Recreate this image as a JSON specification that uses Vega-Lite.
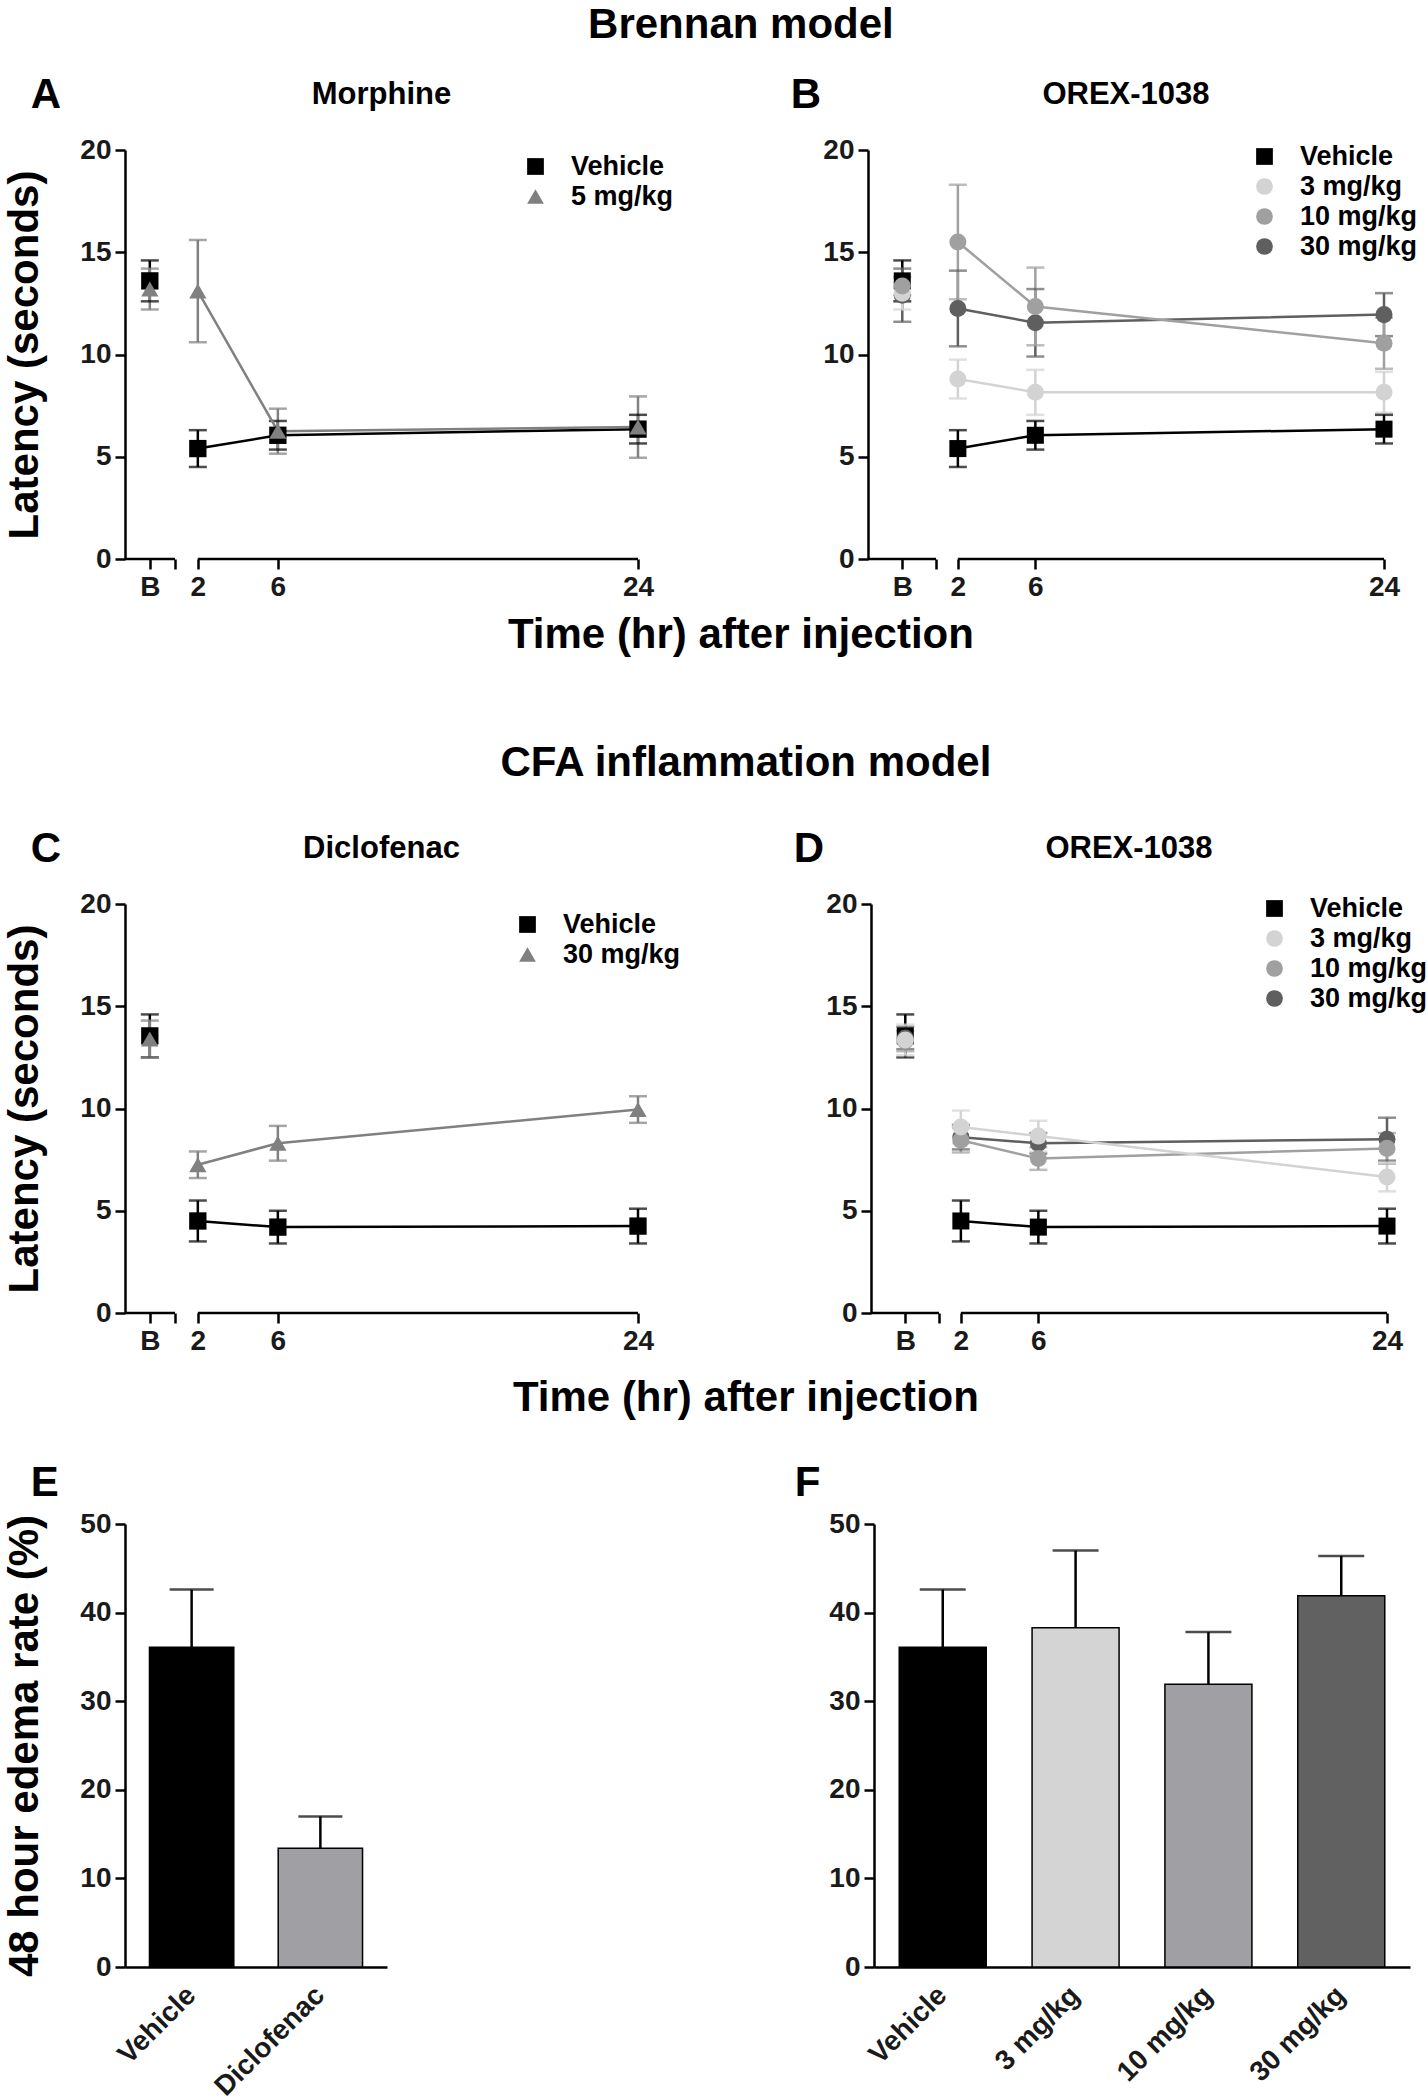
{
"$schema": "https://vega.github.io/schema/vega-lite/v6.json",
"background": "white",
"padding": {"left": 3, "top": 4, "right": 2, "bottom": 5},
"config": {
 "font": "Liberation Sans",
 "view": {"stroke": null},
 "axis": {"grid": false, "domainColor": "black", "domainWidth": 2.5, "tickColor": "black", "tickWidth": 2.5, "tickSize": 10, "labelFont": "Liberation Sans", "labelFontSize": 28, "labelFontWeight": "bold", "labelColor": "#1a1a1a", "labelPadding": 4, "titleFont": "Liberation Sans", "titleFontSize": 42, "titleFontWeight": "bold", "titleColor": "black"},
 "axisY": {"titlePadding": 33},
 "legend": {"labelFont": "Liberation Sans", "labelFontSize": 27, "labelFontWeight": "bold", "labelColor": "black", "symbolSize": 280, "symbolStrokeWidth": 0, "labelOffset": 22, "rowPadding": 2},
 "title": {"font": "Liberation Sans", "fontWeight": "bold", "color": "black", "anchor": "middle"}
},
"datasets": {
 "lat": [
  {"panel": "A", "group": "Vehicle", "time": "B", "mean": 13.6, "lo": 12.6, "hi": 14.6},
  {"panel": "A", "group": "Vehicle", "time": "2", "mean": 5.4, "lo": 4.5, "hi": 6.3},
  {"panel": "A", "group": "Vehicle", "time": "6", "mean": 6.05, "lo": 5.35, "hi": 6.75},
  {"panel": "A", "group": "Vehicle", "time": "24", "mean": 6.35, "lo": 5.65, "hi": 7.05},
  {"panel": "A", "group": "5 mg/kg", "time": "B", "mean": 13.2, "lo": 12.2, "hi": 14.2},
  {"panel": "A", "group": "5 mg/kg", "time": "2", "mean": 13.1, "lo": 10.6, "hi": 15.6},
  {"panel": "A", "group": "5 mg/kg", "time": "6", "mean": 6.25, "lo": 5.15, "hi": 7.35},
  {"panel": "A", "group": "5 mg/kg", "time": "24", "mean": 6.45, "lo": 4.95, "hi": 7.95},
  {"panel": "B", "group": "Vehicle", "time": "B", "mean": 13.6, "lo": 12.6, "hi": 14.6},
  {"panel": "B", "group": "Vehicle", "time": "2", "mean": 5.4, "lo": 4.5, "hi": 6.3},
  {"panel": "B", "group": "Vehicle", "time": "6", "mean": 6.05, "lo": 5.35, "hi": 6.75},
  {"panel": "B", "group": "Vehicle", "time": "24", "mean": 6.35, "lo": 5.65, "hi": 7.05},
  {"panel": "B", "group": "30 mg/kg", "time": "B", "mean": 12.9, "lo": 11.6, "hi": 14.2},
  {"panel": "B", "group": "30 mg/kg", "time": "2", "mean": 12.25, "lo": 10.4, "hi": 14.1},
  {"panel": "B", "group": "30 mg/kg", "time": "6", "mean": 11.55, "lo": 9.9, "hi": 13.2},
  {"panel": "B", "group": "30 mg/kg", "time": "24", "mean": 11.95, "lo": 10.9, "hi": 13.0},
  {"panel": "B", "group": "3 mg/kg", "time": "B", "mean": 13.0, "lo": 12.2, "hi": 13.8},
  {"panel": "B", "group": "3 mg/kg", "time": "2", "mean": 8.8, "lo": 7.85, "hi": 9.75},
  {"panel": "B", "group": "3 mg/kg", "time": "6", "mean": 8.15, "lo": 7.05, "hi": 9.25},
  {"panel": "B", "group": "3 mg/kg", "time": "24", "mean": 8.15, "lo": 7.15, "hi": 9.15},
  {"panel": "B", "group": "10 mg/kg", "time": "B", "mean": 13.35, "lo": 12.9, "hi": 13.8},
  {"panel": "B", "group": "10 mg/kg", "time": "2", "mean": 15.5, "lo": 12.7, "hi": 18.3},
  {"panel": "B", "group": "10 mg/kg", "time": "6", "mean": 12.35, "lo": 10.45, "hi": 14.25},
  {"panel": "B", "group": "10 mg/kg", "time": "24", "mean": 10.55, "lo": 9.3, "hi": 11.8},
  {"panel": "C", "group": "Vehicle", "time": "B", "mean": 13.55, "lo": 12.5, "hi": 14.6},
  {"panel": "C", "group": "Vehicle", "time": "2", "mean": 4.5, "lo": 3.5, "hi": 5.5},
  {"panel": "C", "group": "Vehicle", "time": "6", "mean": 4.2, "lo": 3.4, "hi": 5.0},
  {"panel": "C", "group": "Vehicle", "time": "24", "mean": 4.25, "lo": 3.4, "hi": 5.1},
  {"panel": "C", "group": "30 mg/kg", "time": "B", "mean": 13.4, "lo": 12.5, "hi": 14.3},
  {"panel": "C", "group": "30 mg/kg", "time": "2", "mean": 7.25, "lo": 6.6, "hi": 7.9},
  {"panel": "C", "group": "30 mg/kg", "time": "6", "mean": 8.3, "lo": 7.45, "hi": 9.15},
  {"panel": "C", "group": "30 mg/kg", "time": "24", "mean": 9.95, "lo": 9.3, "hi": 10.6},
  {"panel": "D", "group": "Vehicle", "time": "B", "mean": 13.55, "lo": 12.5, "hi": 14.6},
  {"panel": "D", "group": "Vehicle", "time": "2", "mean": 4.5, "lo": 3.5, "hi": 5.5},
  {"panel": "D", "group": "Vehicle", "time": "6", "mean": 4.2, "lo": 3.4, "hi": 5.0},
  {"panel": "D", "group": "Vehicle", "time": "24", "mean": 4.25, "lo": 3.4, "hi": 5.1},
  {"panel": "D", "group": "30 mg/kg", "time": "B", "mean": 13.45, "lo": 12.9, "hi": 14.0},
  {"panel": "D", "group": "30 mg/kg", "time": "2", "mean": 8.6, "lo": 8.0, "hi": 9.2},
  {"panel": "D", "group": "30 mg/kg", "time": "6", "mean": 8.3, "lo": 7.8, "hi": 8.8},
  {"panel": "D", "group": "30 mg/kg", "time": "24", "mean": 8.5, "lo": 7.45, "hi": 9.55},
  {"panel": "D", "group": "10 mg/kg", "time": "B", "mean": 13.3, "lo": 12.8, "hi": 13.8},
  {"panel": "D", "group": "10 mg/kg", "time": "2", "mean": 8.45, "lo": 7.85, "hi": 9.05},
  {"panel": "D", "group": "10 mg/kg", "time": "6", "mean": 7.55, "lo": 7.0, "hi": 8.1},
  {"panel": "D", "group": "10 mg/kg", "time": "24", "mean": 8.05, "lo": 7.3, "hi": 8.8},
  {"panel": "D", "group": "3 mg/kg", "time": "B", "mean": 13.35, "lo": 12.6, "hi": 14.1},
  {"panel": "D", "group": "3 mg/kg", "time": "2", "mean": 9.1, "lo": 8.3, "hi": 9.9},
  {"panel": "D", "group": "3 mg/kg", "time": "6", "mean": 8.65, "lo": 7.9, "hi": 9.4},
  {"panel": "D", "group": "3 mg/kg", "time": "24", "mean": 6.65, "lo": 5.95, "hi": 7.35}
 ],
 "edema": [
  {"panel": "E", "group": "Vehicle", "mean": 36.1, "hi": 42.6},
  {"panel": "E", "group": "Diclofenac", "mean": 13.4, "hi": 17.0},
  {"panel": "F", "group": "Vehicle", "mean": 36.1, "hi": 42.6},
  {"panel": "F", "group": "3 mg/kg", "mean": 38.3, "hi": 47.0},
  {"panel": "F", "group": "10 mg/kg", "mean": 31.9, "hi": 37.8},
  {"panel": "F", "group": "30 mg/kg", "mean": 41.9, "hi": 46.4}
 ]
},
"spacing": 86,
"resolve": {"scale": {"color": "independent", "shape": "independent", "stroke": "independent", "fill": "independent"}, "legend": {"color": "independent", "shape": "independent"}},
"vconcat": [
 {
  "title": {"text": "Brennan model", "fontSize": 42, "offset": 27, "dx": 30},
  "resolve": {"scale": {"color": "independent", "shape": "independent", "stroke": "independent", "fill": "independent"}, "legend": {"color": "independent", "shape": "independent"}},
  "vconcat": [{
   "title": {"text": "Time (hr) after injection", "orient": "bottom", "fontSize": 42, "offset": 14, "dx": 30},
   "spacing": 116,
   "resolve": {"scale": {"color": "independent", "shape": "independent", "stroke": "independent", "fill": "independent"}, "legend": {"color": "independent", "shape": "independent"}},
   "hconcat": [
    {
     "title": {"text": "A", "anchor": "start", "frame": "bounds", "fontSize": 42, "dx": 27, "dy": 38, "offset": 0},
     "vconcat": [{
      "width": 513, "height": 409,
      "title": {"text": "Morphine", "fontSize": 31, "frame": "group", "offset": 25},
      "data": {"name": "lat"},
      "transform": [{"filter": "datum.panel == 'A'"}, {"calculate": "datum.time == 'B' ? -0.4 : toNumber(datum.time)", "as": "hr"}],
      "encoding": {
       "x": {"field": "hr", "type": "quantitative", "scale": {"domain": [-1.64, 24], "nice": false, "zero": false}, "axis": {"values": [-0.4, 0.86, 2, 6, 24], "labelExpr": "datum.value < 0 ? 'B' : (datum.value < 1 ? '' : datum.label)", "domain": false, "title": null, "labelFlush": false, "labelOverlap": false}},
       "y": {"field": "mean", "type": "quantitative", "scale": {"domain": [0, 20], "nice": false}, "axis": {"values": [0, 5, 10, 15, 20], "title": "Latency (seconds)"}}
      },
      "layer": [
       {"transform": [{"filter": "datum.group == 'Vehicle' && datum.time == 'B'"}], "mark": {"type": "rule", "color": "black", "strokeWidth": 2.5}, "encoding": {"x": {"datum": -1.64}, "x2": {"datum": 0.86}, "y": {"datum": 0}}},
       {"transform": [{"filter": "datum.group == 'Vehicle' && datum.time == 'B'"}], "mark": {"type": "rule", "color": "black", "strokeWidth": 2.5}, "encoding": {"x": {"datum": 2}, "x2": {"datum": 24}, "y": {"datum": 0}}},
       {"mark": {"type": "rule", "strokeWidth": 2.5}, "encoding": {"y": {"field": "lo", "type": "quantitative"}, "y2": {"field": "hi"}, "stroke": {"field": "group", "type": "nominal", "scale": {"domain": ["5 mg/kg", "Vehicle"], "range": ["#808080", "#000000"]}, "legend": null}}},
       {"mark": {"type": "tick", "orient": "horizontal", "size": 18, "thickness": 2.5}, "encoding": {"y": {"field": "lo", "type": "quantitative"}, "fill": {"field": "group", "type": "nominal", "scale": {"domain": ["5 mg/kg", "Vehicle"], "range": ["#808080", "#000000"]}, "legend": null}}},
       {"mark": {"type": "tick", "orient": "horizontal", "size": 18, "thickness": 2.5}, "encoding": {"y": {"field": "hi", "type": "quantitative"}, "fill": {"field": "group", "type": "nominal", "scale": {"domain": ["5 mg/kg", "Vehicle"], "range": ["#808080", "#000000"]}, "legend": null}}},
       {"transform": [{"filter": "datum.time != 'B'"}], "mark": {"type": "line", "strokeWidth": 2.5}, "encoding": {"stroke": {"field": "group", "type": "nominal", "scale": {"domain": ["5 mg/kg", "Vehicle"], "range": ["#808080", "#000000"]}, "legend": null}}},
       {"mark": {"type": "point", "filled": true, "size": 300, "opacity": 1}, "encoding": {
         "color": {"field": "group", "type": "nominal", "scale": {"domain": ["Vehicle", "5 mg/kg"], "range": ["#000000", "#808080"]}, "legend": {"title": null, "orient": "none", "legendX": 397, "legendY": 3}},
         "shape": {"field": "group", "type": "nominal", "scale": {"domain": ["Vehicle", "5 mg/kg"], "range": ["square", "triangle-up"]}, "legend": {"title": null, "orient": "none", "legendX": 397, "legendY": 3}}}}
      ]
     }]
    },
    {
     "title": {"text": "B", "anchor": "start", "frame": "bounds", "fontSize": 42, "dx": -32, "dy": 38, "offset": 0},
     "vconcat": [{
      "width": 516, "height": 409,
      "title": {"text": "OREX-1038", "fontSize": 31, "frame": "group", "offset": 25},
      "data": {"name": "lat"},
      "transform": [{"filter": "datum.panel == 'B'"}, {"calculate": "datum.time == 'B' ? -0.87 : toNumber(datum.time)", "as": "hr"}],
      "encoding": {
       "x": {"field": "hr", "type": "quantitative", "scale": {"domain": [-2.64, 24], "nice": false, "zero": false}, "axis": {"values": [-0.87, 0.87, 2, 6, 24], "labelExpr": "datum.value < 0 ? 'B' : (datum.value < 1 ? '' : datum.label)", "domain": false, "title": null, "labelFlush": false, "labelOverlap": false}},
       "y": {"field": "mean", "type": "quantitative", "scale": {"domain": [0, 20], "nice": false}, "axis": {"values": [0, 5, 10, 15, 20], "title": null}}
      },
      "layer": [
       {"transform": [{"filter": "datum.group == 'Vehicle' && datum.time == 'B'"}], "mark": {"type": "rule", "color": "black", "strokeWidth": 2.5}, "encoding": {"x": {"datum": -2.64}, "x2": {"datum": 0.87}, "y": {"datum": 0}}},
       {"transform": [{"filter": "datum.group == 'Vehicle' && datum.time == 'B'"}], "mark": {"type": "rule", "color": "black", "strokeWidth": 2.5}, "encoding": {"x": {"datum": 2}, "x2": {"datum": 24}, "y": {"datum": 0}}},
       {"mark": {"type": "rule", "strokeWidth": 2.5}, "encoding": {"y": {"field": "lo", "type": "quantitative"}, "y2": {"field": "hi"}, "stroke": {"field": "group", "type": "nominal", "scale": {"domain": ["30 mg/kg", "10 mg/kg", "3 mg/kg", "Vehicle"], "range": ["#5f5f5f", "#a0a0a0", "#d3d3d3", "#000000"]}, "legend": null}}},
       {"mark": {"type": "tick", "orient": "horizontal", "size": 18, "thickness": 2.5}, "encoding": {"y": {"field": "lo", "type": "quantitative"}, "fill": {"field": "group", "type": "nominal", "scale": {"domain": ["30 mg/kg", "10 mg/kg", "3 mg/kg", "Vehicle"], "range": ["#5f5f5f", "#a0a0a0", "#d3d3d3", "#000000"]}, "legend": null}}},
       {"mark": {"type": "tick", "orient": "horizontal", "size": 18, "thickness": 2.5}, "encoding": {"y": {"field": "hi", "type": "quantitative"}, "fill": {"field": "group", "type": "nominal", "scale": {"domain": ["30 mg/kg", "10 mg/kg", "3 mg/kg", "Vehicle"], "range": ["#5f5f5f", "#a0a0a0", "#d3d3d3", "#000000"]}, "legend": null}}},
       {"transform": [{"filter": "datum.time != 'B'"}], "mark": {"type": "line", "strokeWidth": 2.5}, "encoding": {"stroke": {"field": "group", "type": "nominal", "scale": {"domain": ["30 mg/kg", "10 mg/kg", "3 mg/kg", "Vehicle"], "range": ["#5f5f5f", "#a0a0a0", "#d3d3d3", "#000000"]}, "legend": null}}},
       {"mark": {"type": "point", "filled": true, "size": 290, "opacity": 1}, "encoding": {
         "color": {"field": "group", "type": "nominal", "scale": {"domain": ["Vehicle", "3 mg/kg", "10 mg/kg", "30 mg/kg"], "range": ["#000000", "#d3d3d3", "#a0a0a0", "#5f5f5f"]}, "legend": {"title": null, "orient": "none", "legendX": 383, "legendY": -7}},
         "shape": {"field": "group", "type": "nominal", "scale": {"domain": ["Vehicle", "3 mg/kg", "10 mg/kg", "30 mg/kg"], "range": ["square", "circle", "circle", "circle"]}, "legend": {"title": null, "orient": "none", "legendX": 383, "legendY": -7}}}}
      ]
     }]
    }
   ]
  }]
 },
 {
  "title": {"text": "CFA inflammation model", "fontSize": 42, "offset": 43, "dx": 30},
  "spacing": 43,
  "resolve": {"scale": {"color": "independent", "shape": "independent", "stroke": "independent", "fill": "independent"}, "legend": {"color": "independent", "shape": "independent"}},
  "vconcat": [
   {
    "title": {"text": "Time (hr) after injection", "orient": "bottom", "fontSize": 42, "offset": 23, "dx": 30},
    "spacing": 112,
    "resolve": {"scale": {"color": "independent", "shape": "independent", "stroke": "independent", "fill": "independent"}, "legend": {"color": "independent", "shape": "independent"}},
    "hconcat": [
     {
      "title": {"text": "C", "anchor": "start", "frame": "bounds", "fontSize": 42, "dx": 27, "dy": 38, "offset": 0},
      "vconcat": [{
       "width": 513, "height": 409,
       "title": {"text": "Diclofenac", "fontSize": 31, "frame": "group", "offset": 25},
       "data": {"name": "lat"},
       "transform": [{"filter": "datum.panel == 'C'"}, {"calculate": "datum.time == 'B' ? -0.4 : toNumber(datum.time)", "as": "hr"}],
       "encoding": {
        "x": {"field": "hr", "type": "quantitative", "scale": {"domain": [-1.64, 24], "nice": false, "zero": false}, "axis": {"values": [-0.4, 0.86, 2, 6, 24], "labelExpr": "datum.value < 0 ? 'B' : (datum.value < 1 ? '' : datum.label)", "domain": false, "title": null, "labelFlush": false, "labelOverlap": false}},
        "y": {"field": "mean", "type": "quantitative", "scale": {"domain": [0, 20], "nice": false}, "axis": {"values": [0, 5, 10, 15, 20], "title": "Latency (seconds)"}}
       },
       "layer": [
        {"transform": [{"filter": "datum.group == 'Vehicle' && datum.time == 'B'"}], "mark": {"type": "rule", "color": "black", "strokeWidth": 2.5}, "encoding": {"x": {"datum": -1.64}, "x2": {"datum": 0.86}, "y": {"datum": 0}}},
        {"transform": [{"filter": "datum.group == 'Vehicle' && datum.time == 'B'"}], "mark": {"type": "rule", "color": "black", "strokeWidth": 2.5}, "encoding": {"x": {"datum": 2}, "x2": {"datum": 24}, "y": {"datum": 0}}},
        {"mark": {"type": "rule", "strokeWidth": 2.5}, "encoding": {"y": {"field": "lo", "type": "quantitative"}, "y2": {"field": "hi"}, "stroke": {"field": "group", "type": "nominal", "scale": {"domain": ["30 mg/kg", "Vehicle"], "range": ["#808080", "#000000"]}, "legend": null}}},
        {"mark": {"type": "tick", "orient": "horizontal", "size": 18, "thickness": 2.5}, "encoding": {"y": {"field": "lo", "type": "quantitative"}, "fill": {"field": "group", "type": "nominal", "scale": {"domain": ["30 mg/kg", "Vehicle"], "range": ["#808080", "#000000"]}, "legend": null}}},
        {"mark": {"type": "tick", "orient": "horizontal", "size": 18, "thickness": 2.5}, "encoding": {"y": {"field": "hi", "type": "quantitative"}, "fill": {"field": "group", "type": "nominal", "scale": {"domain": ["30 mg/kg", "Vehicle"], "range": ["#808080", "#000000"]}, "legend": null}}},
        {"transform": [{"filter": "datum.time != 'B'"}], "mark": {"type": "line", "strokeWidth": 2.5}, "encoding": {"stroke": {"field": "group", "type": "nominal", "scale": {"domain": ["30 mg/kg", "Vehicle"], "range": ["#808080", "#000000"]}, "legend": null}}},
        {"mark": {"type": "point", "filled": true, "size": 300, "opacity": 1}, "encoding": {
          "color": {"field": "group", "type": "nominal", "scale": {"domain": ["Vehicle", "30 mg/kg"], "range": ["#000000", "#808080"]}, "legend": {"title": null, "orient": "none", "legendX": 389, "legendY": 7}},
          "shape": {"field": "group", "type": "nominal", "scale": {"domain": ["Vehicle", "30 mg/kg"], "range": ["square", "triangle-up"]}, "legend": {"title": null, "orient": "none", "legendX": 389, "legendY": 7}}}}
       ]
      }]
     },
     {
      "title": {"text": "D", "anchor": "start", "frame": "bounds", "fontSize": 42, "dx": -32, "dy": 38, "offset": 0},
      "vconcat": [{
       "width": 516, "height": 409,
       "title": {"text": "OREX-1038", "fontSize": 31, "frame": "group", "offset": 25},
       "data": {"name": "lat"},
       "transform": [{"filter": "datum.panel == 'D'"}, {"calculate": "datum.time == 'B' ? -0.87 : toNumber(datum.time)", "as": "hr"}],
       "encoding": {
        "x": {"field": "hr", "type": "quantitative", "scale": {"domain": [-2.64, 24], "nice": false, "zero": false}, "axis": {"values": [-0.87, 0.87, 2, 6, 24], "labelExpr": "datum.value < 0 ? 'B' : (datum.value < 1 ? '' : datum.label)", "domain": false, "title": null, "labelFlush": false, "labelOverlap": false}},
        "y": {"field": "mean", "type": "quantitative", "scale": {"domain": [0, 20], "nice": false}, "axis": {"values": [0, 5, 10, 15, 20], "title": null}}
       },
       "layer": [
        {"transform": [{"filter": "datum.group == 'Vehicle' && datum.time == 'B'"}], "mark": {"type": "rule", "color": "black", "strokeWidth": 2.5}, "encoding": {"x": {"datum": -2.64}, "x2": {"datum": 0.87}, "y": {"datum": 0}}},
        {"transform": [{"filter": "datum.group == 'Vehicle' && datum.time == 'B'"}], "mark": {"type": "rule", "color": "black", "strokeWidth": 2.5}, "encoding": {"x": {"datum": 2}, "x2": {"datum": 24}, "y": {"datum": 0}}},
        {"mark": {"type": "rule", "strokeWidth": 2.5}, "encoding": {"y": {"field": "lo", "type": "quantitative"}, "y2": {"field": "hi"}, "stroke": {"field": "group", "type": "nominal", "scale": {"domain": ["30 mg/kg", "10 mg/kg", "3 mg/kg", "Vehicle"], "range": ["#5f5f5f", "#a0a0a0", "#d3d3d3", "#000000"]}, "legend": null}}},
        {"mark": {"type": "tick", "orient": "horizontal", "size": 18, "thickness": 2.5}, "encoding": {"y": {"field": "lo", "type": "quantitative"}, "fill": {"field": "group", "type": "nominal", "scale": {"domain": ["30 mg/kg", "10 mg/kg", "3 mg/kg", "Vehicle"], "range": ["#5f5f5f", "#a0a0a0", "#d3d3d3", "#000000"]}, "legend": null}}},
        {"mark": {"type": "tick", "orient": "horizontal", "size": 18, "thickness": 2.5}, "encoding": {"y": {"field": "hi", "type": "quantitative"}, "fill": {"field": "group", "type": "nominal", "scale": {"domain": ["30 mg/kg", "10 mg/kg", "3 mg/kg", "Vehicle"], "range": ["#5f5f5f", "#a0a0a0", "#d3d3d3", "#000000"]}, "legend": null}}},
        {"transform": [{"filter": "datum.time != 'B'"}], "mark": {"type": "line", "strokeWidth": 2.5}, "encoding": {"stroke": {"field": "group", "type": "nominal", "scale": {"domain": ["30 mg/kg", "10 mg/kg", "3 mg/kg", "Vehicle"], "range": ["#5f5f5f", "#a0a0a0", "#d3d3d3", "#000000"]}, "legend": null}}},
        {"mark": {"type": "point", "filled": true, "size": 290, "opacity": 1}, "encoding": {
          "color": {"field": "group", "type": "nominal", "scale": {"domain": ["Vehicle", "3 mg/kg", "10 mg/kg", "30 mg/kg"], "range": ["#000000", "#d3d3d3", "#a0a0a0", "#5f5f5f"]}, "legend": {"title": null, "orient": "none", "legendX": 390, "legendY": -9}},
          "shape": {"field": "group", "type": "nominal", "scale": {"domain": ["Vehicle", "3 mg/kg", "10 mg/kg", "30 mg/kg"], "range": ["square", "circle", "circle", "circle"]}, "legend": {"title": null, "orient": "none", "legendX": 390, "legendY": -9}}}}
       ]
      }]
     }
    ]
   },
   {
    "spacing": 407,
    "resolve": {"scale": {"color": "independent"}, "legend": {"color": "independent"}},
    "hconcat": [
     {
      "title": {"text": "E", "anchor": "start", "frame": "bounds", "fontSize": 42, "dx": 27, "offset": 5},
      "vconcat": [{
       "width": 262, "height": 443,
       "data": {"name": "edema"},
       "transform": [{"filter": "datum.panel == 'E'"}],
       "encoding": {
        "x": {"field": "group", "type": "nominal", "sort": null, "scale": {"paddingInner": 0.345, "paddingOuter": 0.19}, "axis": {"title": null, "labelAngle": -45, "ticks": false, "labelPadding": 14, "labelOffset": -10}},
        "y": {"field": "mean", "type": "quantitative", "scale": {"domain": [0, 50], "nice": false}, "axis": {"values": [0, 10, 20, 30, 40, 50], "title": "48 hour edema rate (%)"}}
       },
       "layer": [
        {"mark": {"type": "bar", "stroke": "black", "strokeWidth": 1.5}, "encoding": {"color": {"field": "group", "type": "nominal", "scale": {"domain": ["Vehicle", "Diclofenac"], "range": ["#000000", "#a0a0a4"]}, "legend": null}}},
        {"mark": {"type": "rule", "color": "black", "strokeWidth": 2.5}, "encoding": {"y2": {"field": "hi"}}},
        {"mark": {"type": "tick", "orient": "horizontal", "color": "black", "size": 44, "thickness": 2.5}, "encoding": {"y": {"field": "hi", "type": "quantitative"}}}
       ]
      }]
     },
     {
      "title": {"text": "F", "anchor": "start", "frame": "bounds", "fontSize": 42, "dx": -34, "offset": 5},
      "vconcat": [{
       "width": 536, "height": 443,
       "data": {"name": "edema"},
       "transform": [{"filter": "datum.panel == 'F'"}],
       "encoding": {
        "x": {"field": "group", "type": "nominal", "sort": null, "scale": {"paddingInner": 0.345, "paddingOuter": 0.19}, "axis": {"title": null, "labelAngle": -45, "ticks": false, "labelPadding": 14, "labelOffset": -10}},
        "y": {"field": "mean", "type": "quantitative", "scale": {"domain": [0, 50], "nice": false}, "axis": {"values": [0, 10, 20, 30, 40, 50], "title": null}}
       },
       "layer": [
        {"mark": {"type": "bar", "stroke": "black", "strokeWidth": 1.5}, "encoding": {"color": {"field": "group", "type": "nominal", "scale": {"domain": ["Vehicle", "3 mg/kg", "10 mg/kg", "30 mg/kg"], "range": ["#000000", "#d4d4d4", "#a0a0a4", "#616161"]}, "legend": null}}},
        {"mark": {"type": "rule", "color": "black", "strokeWidth": 2.5}, "encoding": {"y2": {"field": "hi"}}},
        {"mark": {"type": "tick", "orient": "horizontal", "color": "black", "size": 46, "thickness": 2.5}, "encoding": {"y": {"field": "hi", "type": "quantitative"}}}
       ]
      }]
     }
    ]
   }
  ]
 }
]
}
